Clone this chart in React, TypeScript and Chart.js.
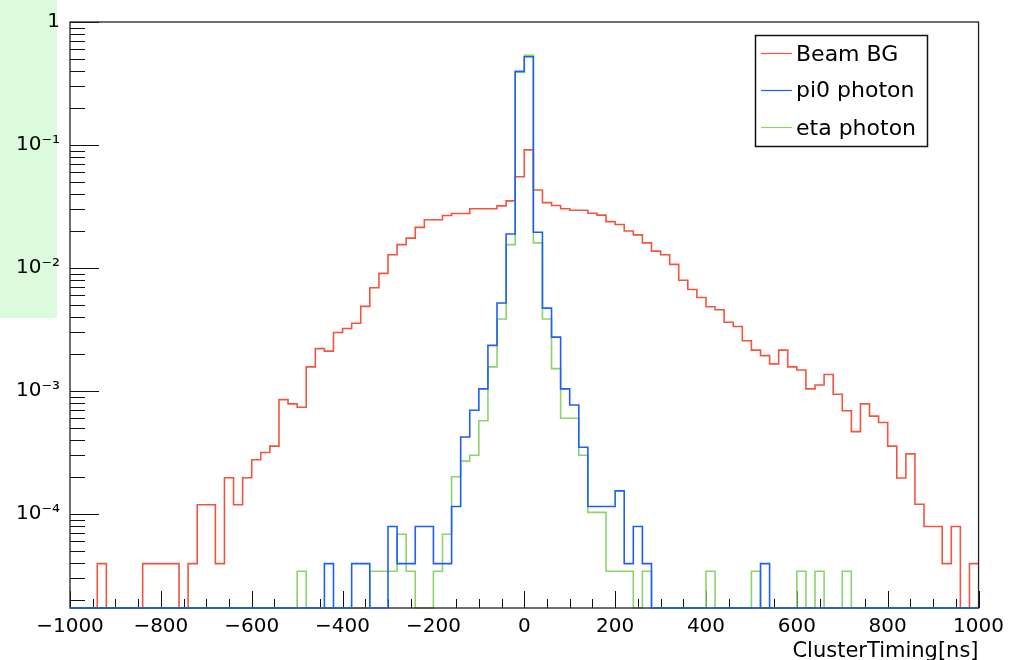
import React, { useEffect, useRef } from 'react';
import { Chart, registerables } from 'chart.js';

Chart.register(...registerables);

// Histogram binning: 100 bins of 20 ns from -1000 to 1000
const HIST_LOW = -1000;
const HIST_HIGH = 1000;
const N_BINS = 100;

// Normalised bin contents (0 = empty bin)
const beamBG = [
  0, 0, 0, 3.95e-5, 0, 0, 0, 0, 3.95e-5, 3.95e-5,
  3.95e-5, 3.95e-5, 0, 3.95e-5, 1.19e-4, 1.19e-4, 3.95e-5, 1.97e-4, 1.19e-4, 1.97e-4,
  2.76e-4, 3.16e-4, 3.56e-4, 8.5e-4, 7.85e-4, 7.38e-4, 1.57e-3, 2.21e-3, 2.11e-3, 2.99e-3,
  3.22e-3, 3.55e-3, 4.87e-3, 6.9e-3, 9.04e-3, 1.28e-2, 1.55e-2, 1.75e-2, 2.14e-2, 2.47e-2,
  2.47e-2, 2.67e-2, 2.77e-2, 2.77e-2, 3.03e-2, 3.03e-2, 3.03e-2, 3.2e-2, 3.51e-2, 5.52e-2,
  9.12e-2, 4.3e-2, 3.4e-2, 3.22e-2, 3.03e-2, 2.95e-2, 2.95e-2, 2.79e-2, 2.69e-2, 2.38e-2,
  2.26e-2, 2.0e-2, 1.86e-2, 1.6e-2, 1.37e-2, 1.28e-2, 1.07e-2, 7.95e-3, 6.68e-3, 5.76e-3,
  4.84e-3, 4.58e-3, 3.62e-3, 3.34e-3, 2.56e-3, 2.15e-3, 1.94e-3, 1.66e-3, 2.15e-3, 1.57e-3,
  1.48e-3, 1.04e-3, 1.12e-3, 1.36e-3, 9.4e-4, 6.9e-4, 4.67e-4, 7.85e-4, 6.24e-4, 5.55e-4,
  3.56e-4, 1.96e-4, 3.08e-4, 1.2e-4, 7.9e-5, 7.9e-5, 3.95e-5, 7.9e-5, 0, 3.95e-5,
];

const pi0Photon = [
  0, 0, 0, 0, 0, 0, 0, 0, 0, 0,
  0, 0, 0, 0, 0, 0, 0, 0, 0, 0,
  0, 0, 0, 0, 0, 0, 0, 0, 3.95e-5, 0,
  0, 3.95e-5, 3.95e-5, 0, 0, 7.9e-5, 3.95e-5, 3.95e-5, 7.9e-5, 7.9e-5,
  3.95e-5, 3.95e-5, 1.15e-4, 4.23e-4, 6.98e-4, 1.04e-3, 2.35e-3, 5.19e-3, 1.89e-2, 0.397,
  0.522, 1.95e-2, 4.72e-3, 2.74e-3, 1.04e-3, 7.7e-4, 3.49e-4, 1.15e-4, 1.15e-4, 1.15e-4,
  1.54e-4, 3.95e-5, 7.9e-5, 3.95e-5, 0, 0, 0, 0, 0, 0,
  0, 0, 0, 0, 0, 0, 3.95e-5, 0, 0, 0,
  0, 0, 0, 0, 0, 0, 0, 0, 0, 0,
  0, 0, 0, 0, 0, 0, 0, 0, 0, 0,
];

const etaPhoton = [
  0, 0, 0, 0, 0, 0, 0, 0, 0, 0,
  0, 0, 0, 0, 0, 0, 0, 0, 0, 0,
  0, 0, 0, 0, 0, 3.42e-5, 0, 0, 0, 0,
  0, 0, 0, 3.42e-5, 3.42e-5, 3.42e-5, 6.84e-5, 3.42e-5, 0, 0,
  3.42e-5, 6.84e-5, 2.01e-4, 2.69e-4, 3.0e-4, 5.73e-4, 1.57e-3, 3.85e-3, 1.55e-2, 0.39,
  0.535, 1.6e-2, 3.85e-3, 1.52e-3, 6.0e-4, 6.0e-4, 3.0e-4, 1.03e-4, 1.03e-4, 3.42e-5,
  3.42e-5, 3.42e-5, 0, 3.42e-5, 0, 0, 0, 0, 0, 0,
  3.42e-5, 0, 0, 0, 0, 3.42e-5, 0, 0, 0, 0,
  3.42e-5, 0, 3.42e-5, 0, 0, 3.42e-5, 0, 0, 0, 0,
  0, 0, 0, 0, 0, 0, 0, 0, 0, 0,
];

const seriesLabels = ['Beam BG', 'pi0 photon', 'eta photon'];
const seriesColors = ['#f2553f', '#1f5ff5', '#8bd36a'];

const xTickValues = [-1000, -800, -600, -400, -200, 0, 200, 400, 600, 800, 1000];
const yTickValues = [1e-4, 1e-3, 1e-2, 1e-1, 1];
const yTickLabels = ['10\u207B\u2074', '10\u207B\u00B3', '10\u207B\u00B2', '10\u207B\u00B9', '1'];

const Y_MIN = 1.72e-5;
const Y_MAX = 1;
const X_TITLE = 'ClusterTiming[ns]';

const FONT = "'DejaVu Sans', sans-serif";

function histPoints(values: number[]) {
  const w = (HIST_HIGH - HIST_LOW) / N_BINS;
  const pts = values.map((v, i) => ({ x: HIST_LOW + i * w, y: v > 0 ? v : Y_MIN }));
  const last = values[values.length - 1];
  pts.push({ x: HIST_HIGH, y: last > 0 ? last : Y_MIN });
  return pts;
}

const rootTicksPlugin = {
  id: 'rootTicks',
  beforeDatasetsDraw(chart: any) {
    const { ctx, chartArea } = chart;
    const xs = chart.scales.x;
    const ys = chart.scales.y;
    ctx.save();
    ctx.strokeStyle = '#111';
    ctx.lineWidth = 1;
    ctx.beginPath();
    // x ticks: every 50, major every 200
    for (let v = HIST_LOW; v <= HIST_HIGH; v += 50) {
      const px = Math.round(xs.getPixelForValue(v)) + 0.5;
      const len = v % 200 === 0 ? 17 : 9;
      ctx.moveTo(px, chartArea.bottom);
      ctx.lineTo(px, chartArea.bottom - len);
    }
    // y ticks (log)
    for (let d = -6; d <= 0; d++) {
      for (let k = 1; k <= 9; k++) {
        const v = k * Math.pow(10, d);
        if (v < Y_MIN || v > Y_MAX * 1.0001) continue;
        const py = Math.round(ys.getPixelForValue(v)) + 0.5;
        const len = k === 1 ? 29 : 15;
        ctx.moveTo(chartArea.left, py);
        ctx.lineTo(chartArea.left + len, py);
      }
    }
    ctx.stroke();
    ctx.restore();
  },
  afterDatasetDraw(chart: any, args: any) {
    if (args.index !== 2) return;
    const { ctx, chartArea } = chart;
    ctx.save();
    ctx.strokeStyle = '#222';
    ctx.lineWidth = 1.3;
    ctx.strokeRect(chartArea.left, chartArea.top, chartArea.right - chartArea.left, chartArea.bottom - chartArea.top);
    ctx.restore();
  },
  afterDraw(chart: any) {
    const { ctx } = chart;
    const bx = 755, by = 35, bw = 173, bh = 112;
    ctx.save();
    ctx.fillStyle = '#ffffff';
    ctx.fillRect(bx, by, bw, bh);
    ctx.strokeStyle = '#111';
    ctx.lineWidth = 1.5;
    ctx.strokeRect(bx + 0.5, by + 0.5, bw - 1, bh - 1);
    const rows = [53.3, 90, 127.3];
    ctx.font = `22px ${FONT}`;
    ctx.textBaseline = 'middle';
    ctx.textAlign = 'left';
    chart.data.datasets.forEach((ds: any, i: number) => {
      const yy = Math.round(rows[i]) + 0.5;
      ctx.strokeStyle = ds.borderColor;
      ctx.lineWidth = 1.2;
      ctx.beginPath();
      ctx.moveTo(761, yy);
      ctx.lineTo(792, yy);
      ctx.stroke();
      ctx.fillStyle = '#000';
      ctx.fillText(ds.label, 796, rows[i] + 1.5);
    });
    ctx.restore();
  },
};

export default function App() {
  const canvasRef = useRef<HTMLCanvasElement | null>(null);

  useEffect(() => {
    if (!canvasRef.current) return;
    const allSeries = [beamBG, pi0Photon, etaPhoton];
    const orders = [2, 0, 1];
    const chart = new Chart(canvasRef.current, {
      type: 'line',
      data: {
        datasets: allSeries.map((vals, i) => ({
          label: seriesLabels[i],
          data: histPoints(vals),
          borderColor: seriesColors[i],
          backgroundColor: seriesColors[i],
          borderWidth: 1.6,
          pointRadius: 0,
          pointHoverRadius: 0,
          stepped: 'before' as const,
          fill: false,
          tension: 0,
          clip: 3,
          borderJoinStyle: 'miter' as const,
          order: orders[i],
        })),
      },
      options: {
        animation: false,
        responsive: false,
        devicePixelRatio: 1,
        events: [],
        layout: { padding: { top: 17.3, right: 26.7, left: 0, bottom: 0 } },
        plugins: {
          legend: { display: false },
          tooltip: { enabled: false },
          title: { display: false },
        },
        scales: {
          x: {
            type: 'linear',
            min: HIST_LOW,
            max: HIST_HIGH,
            grid: { display: false, drawTicks: false },
            border: { display: false },
            afterBuildTicks: (scale: any) => {
              scale.ticks = xTickValues.map((v) => ({ value: v }));
            },
            afterFit: (scale: any) => {
              scale.height = 52;
            },
            ticks: {
              autoSkip: false,
              maxRotation: 0,
              padding: 7,
              color: '#000',
              font: { family: FONT, size: 20 },
              callback: (v: any) => (Number(v) < 0 ? '\u2212' + Math.abs(Number(v)) : String(v)),
            },
            title: {
              display: true,
              text: X_TITLE,
              align: 'end',
              color: '#000',
              font: { family: FONT, size: 21 },
              padding: { top: 0, bottom: -4 },
            },
          },
          y: {
            type: 'logarithmic',
            min: Y_MIN,
            max: Y_MAX,
            grid: { display: false, drawTicks: false },
            border: { display: false },
            afterBuildTicks: (scale: any) => {
              scale.ticks = yTickValues.map((v) => ({ value: v }));
            },
            afterFit: (scale: any) => {
              scale.width = 70;
            },
            ticks: {
              autoSkip: false,
              padding: 10,
              color: '#000',
              font: { family: FONT, size: 20 },
              callback: (v: any) => {
                const idx = yTickValues.findIndex((t) => Math.abs(Math.log10(t) - Math.log10(Number(v))) < 1e-6);
                return idx >= 0 ? yTickLabels[idx] : '';
              },
            },
          },
        },
      },
      plugins: [rootTicksPlugin],
    } as any);
    return () => chart.destroy();
  }, []);

  return (
    <div style={{ position: 'absolute', left: 0, top: 0, width: 1011, height: 660, background: '#ffffff', overflow: 'hidden' }}>
      <div style={{ position: 'absolute', left: 0, top: 0, width: 57, height: 318, background: 'rgb(220, 250, 220)' }} />
      <canvas ref={canvasRef} width={1011} height={660} style={{ position: 'absolute', left: 0, top: 0, width: 1011, height: 660 }} />
    </div>
  );
}
